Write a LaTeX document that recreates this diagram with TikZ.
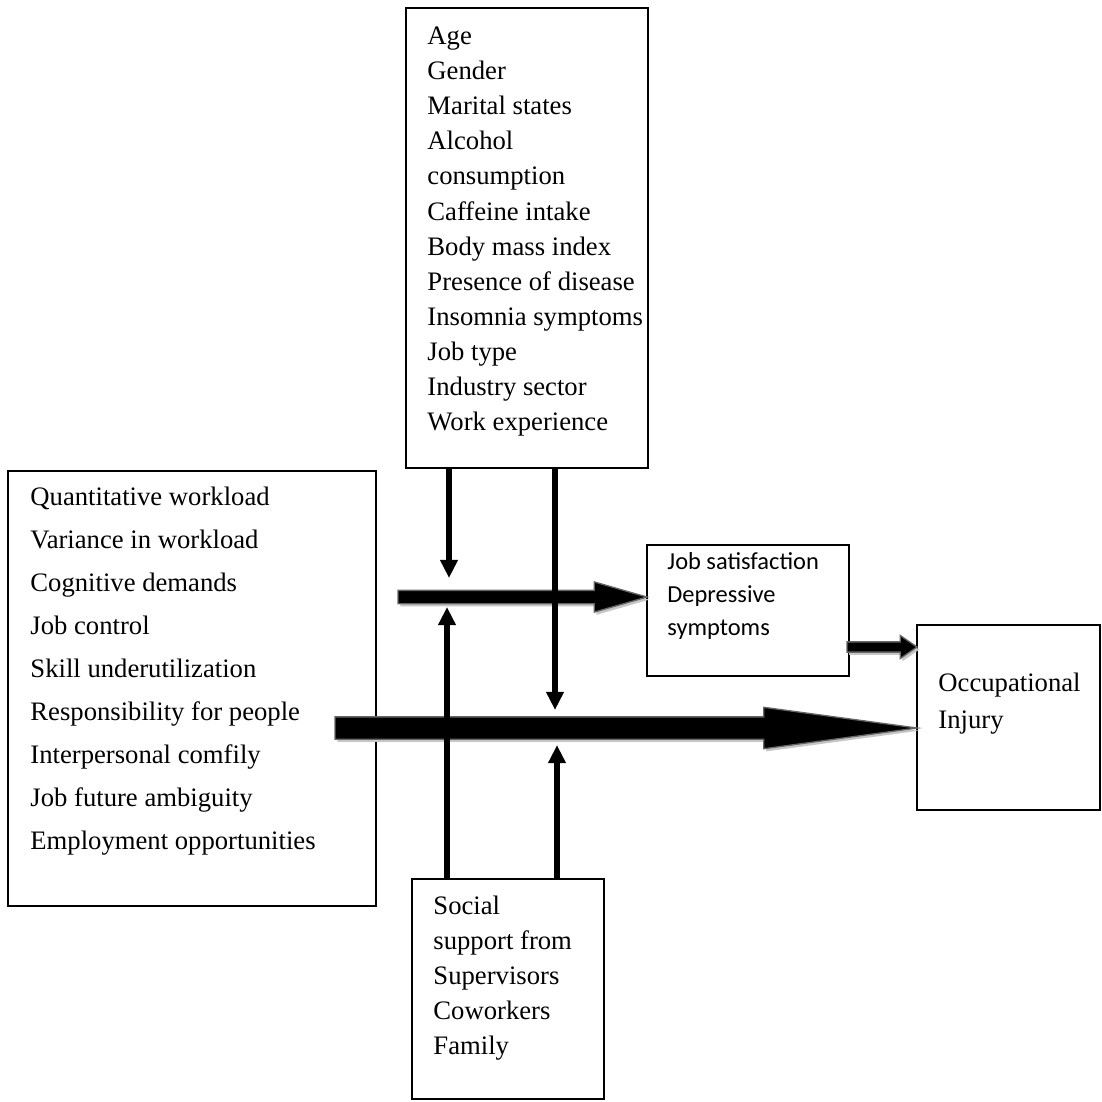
\documentclass[tikz,border=0pt]{standalone}
\usepackage{fontspec}
\setmainfont{Liberation Serif}
\newfontfamily\calibriLike{Carlito}
\usepackage{tikz}
\usetikzlibrary{positioning, arrows.meta, fit, calc, shapes.arrows, shadows}

\begin{document}
\begin{tikzpicture}[x=0.45pt, y=-0.45pt,
    every node/.style={font=\fontsize{12}{16}\selectfont},
    box/.style={rectangle, draw=black, line width=0.7pt, inner sep=0pt},
    itemList/.style={anchor=north west, align=left, inner sep=0pt},
    blockArrow/.style={single arrow, draw=gray!80!black, line width=0.6pt, fill=black,
                       inner sep=0pt, outer sep=0pt, anchor=west, single arrow head indent=0pt,
                       drop shadow={shadow xshift=1pt, shadow yshift=-1.2pt, fill=gray!45, opacity=1}},
    thinArrow/.style={line width=2.3pt, -{Triangle[length=8.2pt, width=7.6pt]}},
  ]
  \fill[white] (0,0) rectangle (1102,1101);
  \useasboundingbox (0,0) rectangle (1102,1101);

  \node[box, fit={(406,8) (648,468)}] (ctl) {};
  \node[itemList, font=\fontsize{12}{15.8}\selectfont] (ctlText) at (427,24)
       {\rule{0pt}{9pt}Age\\Gender\\Marital states\\Alcohol\\consumption\\Caffeine intake\\
        Body mass index\\Presence of disease\\Insomnia symptoms\\Job type\\Industry sector\\Work experience};

  \node[box, fit={(8,471) (376,906)}] (dem) {};
  \node[itemList, font=\fontsize{12}{19.35}\selectfont] (demText) at (30,485)
       {\rule{0pt}{9pt}Quantitative workload\\Variance in workload\\Cognitive demands\\Job control\\
        Skill underutilization\\Responsibility for people\\Interpersonal comfily\\Job future ambiguity\\
        Employment opportunities};

  \node[box, fit={(647,545) (849,676)}] (med) {};
  \node[itemList, font=\calibriLike\fontsize{11}{14.85}\selectfont] (medText) at (667,550)
       {\rule{0pt}{8.5pt}Job satisfaction\\Depressive\\symptoms};

  \node[box, fit={(917,625) (1100,810)}] (inj) {};
  \node[itemList, font=\fontsize{12}{16.65}\selectfont] (injText) at (938,671)
       {\rule{0pt}{9pt}Occupational\\Injury};

  \node[box, fit={(412,879) (604,1099)}] (sup) {};
  \node[itemList, font=\fontsize{12}{15.75}\selectfont] (supText) at (433,894)
       {\rule{0pt}{9pt}Social\\support from\\Supervisors\\Coworkers\\Family};

  \node[blockArrow, minimum height=112pt, text height=5.4pt,
        single arrow head extend=3.8pt, single arrow tip angle=32] (toMed) at (398,597) {};
  \node[blockArrow, minimum height=261.9pt, text height=9.45pt,
        single arrow head extend=4.3pt, single arrow tip angle=15.4] (toInj) at (335,728) {};
  \node[blockArrow, minimum height=31.5pt, text height=4pt,
        single arrow head extend=2.9pt, single arrow tip angle=69] (medToInj) at (847,647) {};

  \coordinate (ctlTipA) at (449,578);
  \coordinate (ctlTipB) at (555,710);
  \coordinate (supTipA) at (447,607);
  \coordinate (supTipB) at (557,745);

  \draw[thinArrow] (ctl.south -| ctlTipA) -- (ctlTipA);
  \draw[thinArrow] (ctl.south -| ctlTipB) -- (ctlTipB);
  \draw[thinArrow] (sup.north -| supTipA) -- (supTipA);
  \draw[thinArrow] (sup.north -| supTipB) -- (supTipB);
\end{tikzpicture}
\end{document}
